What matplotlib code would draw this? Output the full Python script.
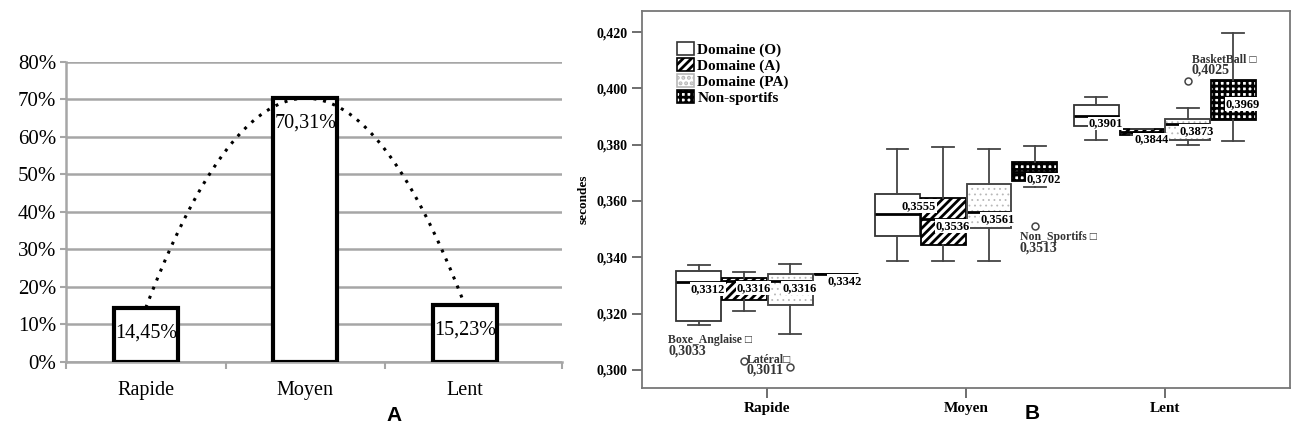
import numpy as np
import matplotlib
matplotlib.use("Agg")
import matplotlib.pyplot as plt
from matplotlib.patches import Patch, PathPatch

plt.rcParams["font.family"] = ["Liberation Serif", "DejaVu Serif"]
plt.rcParams["hatch.linewidth"] = 2.0

# ---------------- panel A : share of subjects per speed class
speed_cats = ["Rapide", "Moyen", "Lent"]
speed_share = [14.45, 70.31, 15.23]
share_labels = ["14,45%", "70,31%", "15,23%"]

# ---------------- panel B : reaction time (s) box plots
box_cats = ["Rapide", "Moyen", "Lent"]
groups = ["Domaine (O)", "Domaine (A)", "Domaine (PA)", "Non-sportifs"]
# rows = speed class, columns = group
whis_lo = [[0.3160, 0.3210, 0.3127, 0.3342],
           [0.3388, 0.3388, 0.3388, 0.3648],
           [0.3818, 0.3833, 0.3800, 0.3813]]
q1 = [[0.3174, 0.3248, 0.3230, 0.3342],
      [0.3475, 0.3443, 0.3505, 0.3671],
      [0.3865, 0.3833, 0.3815, 0.3887]]
medians = [[0.3312, 0.3316, 0.3316, 0.3342],
           [0.3555, 0.3536, 0.3561, 0.3702],
           [0.3901, 0.3844, 0.3873, 0.3969]]
q3 = [[0.3352, 0.3325, 0.3340, 0.3342],
      [0.3624, 0.3609, 0.3660, 0.3738],
      [0.3940, 0.3857, 0.3893, 0.4031]]
whis_hi = [[0.3372, 0.3349, 0.3378, 0.3342],
           [0.3783, 0.3792, 0.3783, 0.3794],
           [0.3969, 0.3857, 0.3931, 0.4196]]

out_cat = [0, 0, 1, 2]
out_grp = [1, 2, 3, 2]
out_val = [0.3033, 0.3011, 0.3513, 0.4025]
out_name = ["Boxe_Anglaise \u25a1", "Lat\u00e9ral\u25a1", "Non_Sportifs \u25a1", "BasketBall \u25a1"]
out_text_x = [-0.497, -0.105, 1.271, 2.136]
out_text_y = [0.3106, 0.3035, 0.3471, 0.4102]


def pct(v):
    return f"{v:.0f}%"


fig = plt.figure(figsize=(12.95, 4.33), dpi=100)

# ======================= A =======================
axA = fig.add_axes([0.051, 0.164, 0.383, 0.693])
grid_c = "#a6a6a6"
x = np.arange(len(speed_cats))
axA.bar(x, speed_share, width=0.4, color="white", edgecolor="black",
        linewidth=3, zorder=3)
for xi, v, lab in zip(x, speed_share, share_labels):
    axA.annotate(lab, (xi, v), xytext=(0, -18), textcoords="offset points",
                 ha="center", va="center", fontsize=14.5, zorder=4)

# polynomial (order 2) trend line
coef = np.polyfit(x, speed_share, 2)
xs = np.linspace(0, 2, 200)
axA.plot(xs, np.polyval(coef, xs), color="black", linestyle=(0, (1, 2.2)),
         linewidth=2.2, zorder=5)

axA.set_ylim(0, 80)
axA.set_xlim(-0.5, 2.61)
axA.set_yticks(np.arange(0, 81, 10))
axA.yaxis.set_major_formatter(lambda v, p: pct(v))
axA.yaxis.grid(True, color=grid_c, linewidth=1.8, zorder=0)
axA.set_axisbelow(True)
axA.set_xticks(x)
axA.set_xticklabels(speed_cats)
axA.set_xticks([-0.5, 0.5, 1.5, 2.61], minor=True)
axA.tick_params(axis="x", which="major", length=0, pad=14, labelsize=14.5)
axA.tick_params(axis="x", which="minor", length=5, width=1.5, color=grid_c)
axA.tick_params(axis="y", length=4, width=1.5, color=grid_c, labelsize=15, pad=3)
for s in ["top", "right"]:
    axA.spines[s].set_visible(False)
for s in ["left", "bottom"]:
    axA.spines[s].set_color(grid_c)
    axA.spines[s].set_linewidth(1.8)

# ======================= B =======================
axB = fig.add_axes([0.4958, 0.104, 0.5004, 0.8707])
offsets = [-0.345, -0.115, 0.115, 0.345]
box_w = 0.225
hatches = [None, "////", "...", "+++"]
hatch_cols = ["#333333", "black", "#b8b8b8", "black"]
hatch_lw = [2.0, 2.0, 0.6, 2.0]

for ci in range(len(box_cats)):
    for gi in range(len(groups)):
        st = dict(whislo=whis_lo[ci][gi], q1=q1[ci][gi], med=medians[ci][gi],
                  q3=q3[ci][gi], whishi=whis_hi[ci][gi], fliers=[])
        pos = ci + offsets[gi]
        with plt.rc_context({"hatch.linewidth": hatch_lw[gi]}):
            res = axB.bxp([st], positions=[pos], widths=box_w, capwidths=0.11,
                          patch_artist=True, showfliers=False,
                          boxprops=dict(facecolor="white", edgecolor=hatch_cols[gi],
                                        linewidth=1.3, hatch=hatches[gi]),
                          whiskerprops=dict(color="#444444", linewidth=1.3),
                          capprops=dict(color="#444444", linewidth=1.3),
                          medianprops=dict(color="black", linewidth=2))
        box = res["boxes"][0]
        if gi == 2:
            axB.add_patch(PathPatch(box.get_path(), fill=False,
                                    edgecolor="#444444", linewidth=1.3, zorder=box.get_zorder() + 0.1))
        # median value label
        dy = 0.0027 if (ci == 1 and gi == 0) else -0.0025
        dx = 0.02 if (ci == 1 and gi == 0) else -0.04
        axB.text(pos + dx, medians[ci][gi] + dy,
                 f"{medians[ci][gi]:.4f}".replace(".", ","),
                 fontsize=9, fontweight="bold", ha="left", va="center", zorder=6,
                 bbox=dict(facecolor="white", edgecolor="none", pad=0.5))

# outliers
for c, g, v, name, tx, ty in zip(out_cat, out_grp, out_val, out_name, out_text_x, out_text_y):
    axB.plot(c + offsets[g], v, marker="o", markersize=5, markerfacecolor="white",
             markeredgecolor="#444444", markeredgewidth=1.1, linestyle="none", zorder=6)
    axB.text(tx, ty, name, fontsize=8.5, fontweight="bold", color="#333333",
             ha="left", va="center", zorder=6)
    if name.startswith("Lat"):
        axB.text(tx + 0.095, ty - 0.0037, f"{v:.4f}".replace(".", ","), fontsize=10,
                 fontweight="bold", color="#333333", ha="center", va="center")
    else:
        axB.text(tx, ty - 0.0038, f"{v:.4f}".replace(".", ","), fontsize=10,
                 fontweight="bold", color="#333333", ha="left", va="center")

axB.set_xlim(-0.63, 2.63)
axB.set_ylim(0.2936, 0.4275)
axB.set_xticks(range(len(box_cats)))
axB.set_xticklabels(box_cats, fontweight="bold", fontsize=11)
yt = np.arange(0.300, 0.4201, 0.02)
axB.set_yticks(yt)
axB.set_yticklabels([f"{t:.3f}".replace(".", ",") for t in yt], fontweight="bold", fontsize=10)
axB.tick_params(axis="both", length=7, width=1.2, color="#555555")
axB.tick_params(axis="x", pad=3)
axB.set_ylabel("secondes", fontweight="bold", fontsize=9.5, labelpad=5)
for s in axB.spines.values():
    s.set_color("#777777")
    s.set_linewidth(1.3)

handles = []
for i in range(len(groups)):
    with plt.rc_context({"hatch.linewidth": hatch_lw[i]}):
        handles.append(Patch(facecolor="white", edgecolor=hatch_cols[i],
                             hatch=hatches[i], linewidth=1.2))
leg = axB.legend(handles, groups, loc="upper left", bbox_to_anchor=(0.045, 0.935),
                 frameon=False, prop=dict(family="Liberation Serif", weight="bold", size=11),
                 handlelength=1.1, handleheight=1.0, handletextpad=0.2,
                 labelspacing=0.05, borderaxespad=0)

fig.text(0.304, 0.018, "A", fontsize=15, fontweight="bold", family="Liberation Sans",
         ha="center", va="bottom")
fig.text(0.797, 0.022, "B", fontsize=15, fontweight="bold", family="Liberation Sans",
         ha="center", va="bottom")

fig.savefig("out.png", dpi=100)
